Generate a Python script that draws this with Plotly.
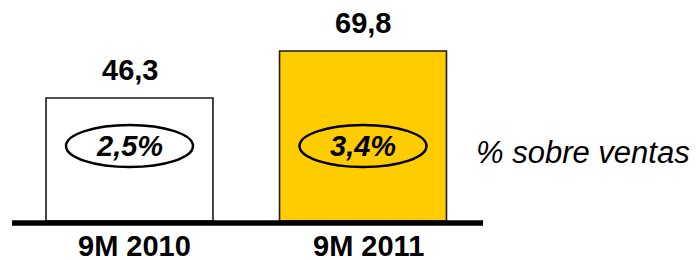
import plotly.graph_objects as go

# ---- data ----
categories = ["9M 2010", "9M 2011"]
values = [46.3, 69.8]
value_labels = ["46,3", "69,8"]
pct_labels = ["2,5%", "3,4%"]
side_note = "% sobre ventas"

# ---- style / layout constants ----
W, H = 698, 260
FONT = "Liberation Sans, Arial, sans-serif"
bar_colors = ["#FFFFFF", "#FFCC00"]
BAR_BASE = -15.2          # visual baseline value of the bars
Y_RANGE = [-34.7, 95.3]
X_RANGE = [-0.5546, 2.4347]
PCT_Y = 22.3              # vertical centre of the oval labels (data units)

fig = go.Figure()
fig.add_trace(go.Bar(
    x=categories,
    y=[v - BAR_BASE for v in values],
    base=BAR_BASE,
    width=0.715,
    marker=dict(color=bar_colors, line=dict(color="#1a1a1a", width=1.6)),
    hoverinfo="skip",
    showlegend=False,
))

shapes = []
annotations = []

# baseline
shapes.append(dict(type="line", xref="x", yref="y", x0=-0.503, x1=1.514,
                   y0=BAR_BASE - 1.0, y1=BAR_BASE - 1.0,
                   line=dict(color="#000000", width=5.5), layer="above"))

for i, (cat, v, vl, pl) in enumerate(zip(categories, values, value_labels, pct_labels)):
    # value label above bar
    annotations.append(dict(x=cat, y=v, xref="x", yref="y", text=f"<b>{vl}</b>",
                            showarrow=False, yanchor="middle", yshift=28,
                            font=dict(family=FONT, size=29, color="#000000")))
    # oval
    shapes.append(dict(type="circle", xref="x", yref="y",
                       xsizemode="pixel", ysizemode="pixel",
                       xanchor=i, yanchor=PCT_Y,
                       x0=-63.5, x1=63.5, y0=-21, y1=21,
                       line=dict(color="#000000", width=2.5), layer="above"))
    annotations.append(dict(x=cat, y=PCT_Y, xref="x", yref="y",
                            text=f"<b><i>{pl}</i></b>", showarrow=False,
                            yanchor="middle", xanchor="center",
                            font=dict(family=FONT, size=29, color="#000000")))
    # category label
    annotations.append(dict(x=cat, y=(H - 245.5) / H, xref="x", yref="paper",
                            text=f"<b>{cat}</b>", showarrow=False,
                            yanchor="middle", xshift=5,
                            font=dict(family=FONT, size=29, color="#000000")))

annotations.append(dict(x=582.5 / W, y=(H - 152.5) / H, xref="paper", yref="paper",
                        text=f"<i>{side_note}</i>", showarrow=False,
                        xanchor="center", yanchor="middle",
                        font=dict(family=FONT, size=31, color="#000000")))

fig.update_layout(
    width=W, height=H,
    margin=dict(l=0, r=0, t=0, b=0, pad=0),
    paper_bgcolor="white", plot_bgcolor="white",
    xaxis=dict(range=X_RANGE, visible=False, type="category", fixedrange=True),
    yaxis=dict(range=Y_RANGE, visible=False, fixedrange=True),
    shapes=shapes, annotations=annotations,
    bargap=0,
)

fig.write_html("out.html",
               config={"displayModeBar": False, "staticPlot": True},
               post_script="document.body.style.margin='0';document.body.style.overflow='hidden';")
